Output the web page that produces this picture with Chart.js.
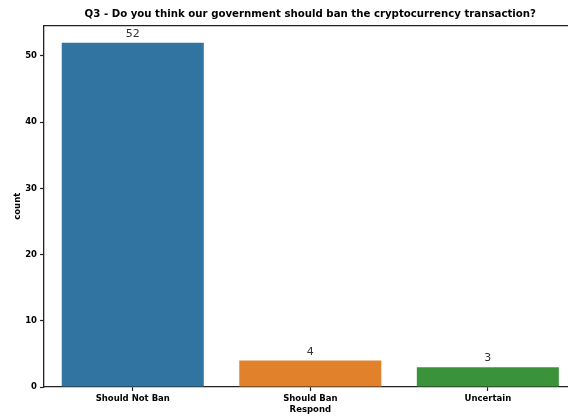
<!DOCTYPE html>
<html>
<head>
<meta charset="utf-8">
<script src="https://cdn.jsdelivr.net/npm/chart.js@4.4.1/dist/chart.umd.min.js"></script>
<style>
  html, body { margin: 0; padding: 0; overflow: hidden; background: #fff; }
  #wrap { width: 580px; height: 417px; }
</style>
</head>
<body>
<div id="wrap"><canvas id="countPlot" width="580" height="417"></canvas></div>
<script>
// chart data
var categories = ['Should Not Ban', 'Should Ban', 'Uncertain'];
var counts = [52, 4, 3];
var barColors = ['#3274a1', '#e1812c', '#3a923a'];
var chartTitle = 'Q3 - Do you think our government should ban the cryptocurrency transaction?';

// value above each bar + top spine
var extras = {
    id: 'extras',
    afterDatasetsDraw: function (chart) {
        var ctx = chart.ctx;
        var meta = chart.getDatasetMeta(0);
        ctx.save();
        ctx.fillStyle = '#333';
        ctx.font = '11px "DejaVu Sans"';
        ctx.textAlign = 'center';
        ctx.textBaseline = 'bottom';
        meta.data.forEach(function (bar, i) {
            ctx.fillText(counts[i], bar.x, bar.y - 3);
        });
        var a = chart.chartArea;
        ctx.strokeStyle = '#222';
        ctx.lineWidth = 1.3;
        ctx.beginPath();
        ctx.moveTo(a.left, a.top);
        ctx.lineTo(a.right, a.top);
        ctx.stroke();
        ctx.restore();
    }
};

function setupChart() {
    var ctx = document.getElementById('countPlot').getContext('2d');
    var chart = new Chart(ctx, {
        type: 'bar',
        data: {
            labels: categories,
            datasets: [{
                data: counts,
                backgroundColor: barColors,
                borderWidth: 0,
                categoryPercentage: 0.8,
                barPercentage: 1.0
            }]
        },
        options: {
            responsive: false,
            animation: false,
            layout: { padding: { left: 0, right: 3.4, top: 0, bottom: 0 } },
            plugins: {
                legend: { display: false },
                tooltip: { enabled: false },
                title: {
                    display: true,
                    fullSize: false,
                    text: chartTitle,
                    color: '#000',
                    font: { family: '"DejaVu Sans"', size: 10.2, weight: 'bold', lineHeight: 1.2 },
                    padding: { top: 8, bottom: 5.3 }
                }
            },
            scales: {
                x: {
                    offset: true,
                    grid: { display: true, offset: false, drawOnChartArea: false, drawTicks: true, tickLength: 4, color: '#222', tickWidth: 1.2 },
                    border: { display: true, color: '#222', width: 1.3 },
                    ticks: { color: '#000', padding: 3, maxRotation: 0, font: { family: '"DejaVu Sans"', size: 8.5, weight: 'bold' } },
                    title: { display: true, text: 'Respond', color: '#000', padding: { top: 0, bottom: 2 }, font: { family: '"DejaVu Sans"', size: 8.5, weight: 'bold' } },
                    afterFit: function (scale) { scale.height = 30; }
                },
                y: {
                    min: 0,
                    max: 54.6,
                    grid: { display: true, drawOnChartArea: false, drawTicks: true, tickLength: 4, color: '#222', tickWidth: 1.2 },
                    border: { display: true, color: '#222', width: 1.3 },
                    ticks: { stepSize: 10, color: '#000', padding: 3, font: { family: '"DejaVu Sans"', size: 8.5, weight: 'bold' } },
                    title: { display: true, text: 'count', color: '#000', padding: { top: 13, bottom: 0 }, font: { family: '"DejaVu Sans"', size: 8.5, weight: 'bold' } },
                    afterBuildTicks: function (scale) {
                        scale.ticks = scale.ticks.filter(function (t) { return t.value % 10 === 0; });
                    },
                    afterFit: function (scale) { scale.width = 44; }
                }
            }
        },
        plugins: [extras]
    });
}

setupChart();
</script>
</body>
</html>
